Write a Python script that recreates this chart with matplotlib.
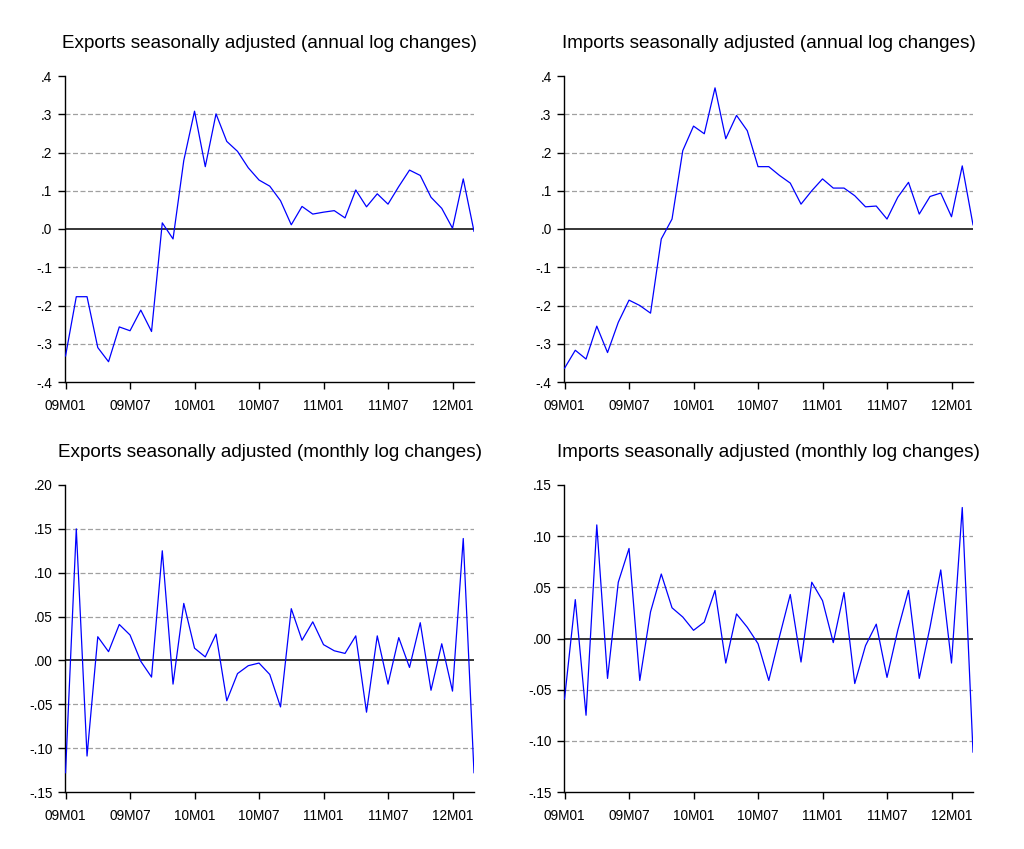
import numpy as np
import matplotlib.pyplot as plt
from matplotlib.ticker import FixedLocator, FuncFormatter

# monthly observations 09M01 .. 12M03
months = [f"{y:02d}M{m:02d}" for y in range(9, 13) for m in range(1, 13)][:39]
tick_labels = ["09M01", "09M07", "10M01", "10M07", "11M01", "11M07", "12M01"]

exports_annual = [
    -0.332, -0.177, -0.177, -0.310, -0.347, -0.256, -0.266, -0.212, -0.268, 0.016,
    -0.026, 0.179, 0.308, 0.163, 0.301, 0.229, 0.203, 0.160, 0.128, 0.112,
    0.074, 0.011, 0.059, 0.039, 0.044, 0.048, 0.029, 0.102, 0.058, 0.092,
    0.065, 0.111, 0.154, 0.140, 0.083, 0.054, 0.002, 0.131, -0.006,
]
imports_annual = [
    -0.364, -0.317, -0.340, -0.254, -0.323, -0.244, -0.186, -0.200, -0.220, -0.026,
    0.026, 0.205, 0.269, 0.249, 0.369, 0.236, 0.297, 0.257, 0.163, 0.163,
    0.140, 0.120, 0.065, 0.100, 0.131, 0.107, 0.107, 0.087, 0.058, 0.060,
    0.026, 0.083, 0.122, 0.039, 0.085, 0.094, 0.032, 0.165, 0.011,
]
exports_monthly = [
    -0.128, 0.150, -0.109, 0.027, 0.010, 0.041, 0.029, -0.001, -0.019, 0.125,
    -0.027, 0.065, 0.014, 0.004, 0.030, -0.046, -0.015, -0.006, -0.003, -0.016,
    -0.053, 0.059, 0.023, 0.044, 0.018, 0.011, 0.008, 0.028, -0.059, 0.028,
    -0.027, 0.026, -0.008, 0.043, -0.034, 0.019, -0.035, 0.139, -0.128,
]
imports_monthly = [
    -0.059, 0.038, -0.075, 0.111, -0.039, 0.055, 0.088, -0.041, 0.026, 0.063,
    0.030, 0.021, 0.008, 0.016, 0.047, -0.024, 0.024, 0.011, -0.005, -0.041,
    0.002, 0.043, -0.023, 0.055, 0.037, -0.004, 0.045, -0.044, -0.007, 0.014,
    -0.038, 0.008, 0.047, -0.039, 0.011, 0.067, -0.024, 0.128, -0.111,
]

panels = [
    ("Exports seasonally adjusted (annual log changes)", exports_annual,
     np.round(np.arange(-0.4, 0.41, 0.1), 2), 1),
    ("Imports seasonally adjusted (annual log changes)", imports_annual,
     np.round(np.arange(-0.4, 0.41, 0.1), 2), 1),
    ("Exports seasonally adjusted (monthly log changes)", exports_monthly,
     np.round(np.arange(-0.15, 0.201, 0.05), 2), 2),
    ("Imports seasonally adjusted (monthly log changes)", imports_monthly,
     np.round(np.arange(-0.15, 0.151, 0.05), 2), 2),
]

# axes boxes in pixels: left, top, right, bottom
W, H = 1024, 849
boxes = [(65, 76, 474, 382), (564, 76, 973, 382),
         (65, 485, 474, 792), (564, 485, 973, 792)]

plt.rcParams["font.family"] = ["Liberation Sans", "DejaVu Sans"]
fig = plt.figure(figsize=(W / 100, H / 100), dpi=100)


def eviews_fmt(decimals):
    def f(v, pos):
        s = f"{v:.{decimals}f}"
        s = s.replace("0.", ".", 1)
        if s.startswith("-") and float(s) == 0:
            s = s[1:]
        return s
    return FuncFormatter(f)


x = np.arange(len(months))
tick_pos = [months.index(t) for t in tick_labels]

for (title, vals, yticks, dec), (l, t, r, b) in zip(panels, boxes):
    ax = fig.add_axes([l / W, 1 - b / H, (r - l) / W, (b - t) / H])
    for yv in yticks[1:-1]:
        if abs(yv) < 1e-9:
            ax.axhline(0, color="black", lw=1.1, zorder=2)
        else:
            ax.axhline(yv, color="#a0a0a0", lw=0.9, ls=(0, (4, 2)), zorder=1)
    ax.plot(x, vals, color="#0000ff", lw=0.9, zorder=3)
    ax.set_xlim(-0.05, len(months) - 1)
    ax.set_ylim(yticks[0], yticks[-1])
    ax.yaxis.set_major_locator(FixedLocator(yticks))
    ax.yaxis.set_major_formatter(eviews_fmt(dec))
    ax.set_xticks(tick_pos)
    ax.set_xticklabels(tick_labels)
    ax.spines["top"].set_visible(False)
    ax.spines["right"].set_visible(False)
    ax.spines["left"].set_linewidth(1.0)
    ax.spines["bottom"].set_linewidth(1.0)
    ax.tick_params(direction="out", length=5, width=1.0, labelsize=9.8,
                   colors="black")
    ax.tick_params(axis="x", pad=7)
    ax.tick_params(axis="y", pad=4)
    ax.set_title(title, fontsize=13.6, pad=20)

fig.savefig("out.png", dpi=100)
